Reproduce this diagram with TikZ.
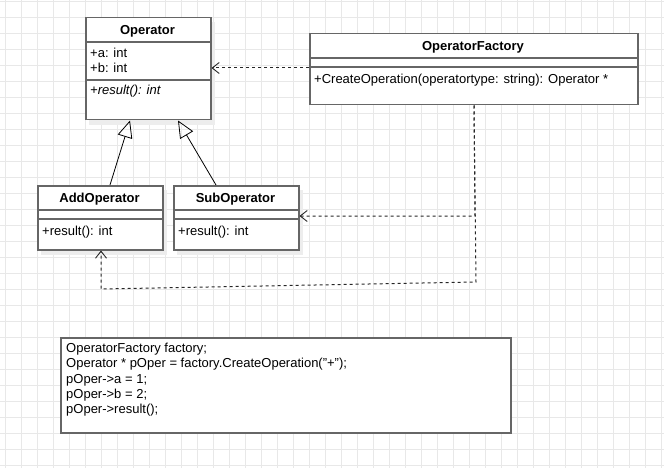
\documentclass[tikz,border=0pt]{standalone}
\usepackage{fontspec}
\setmainfont{Liberation Sans}
\usetikzlibrary{arrows.meta}
\begin{document}
\begin{tikzpicture}[x=1pt,y=-1pt,
  box/.style={draw=black!60, line width=1.5pt, fill=white, inner sep=0pt, anchor=north west},
  shade/.style={fill=black!7, draw=none},
  sepline/.style={draw=black!60, line width=1.5pt},
  ttl/.style={font=\fontsize{13}{15}\selectfont\bfseries, inner sep=0pt},
  txt/.style={font=\fontsize{13}{15.3}\selectfont, inner sep=0pt, anchor=west},
  inh/.style={draw=black, line width=0.8pt, -{Triangle[open, length=17pt, width=15pt]}},
  dep/.style={draw=black!85, line width=1pt, dash pattern=on 3pt off 3pt},
  deparrow/.style={dep, -{Straight Barb[length=7pt, width=11pt, line width=0.9pt]}},
  gridline/.style={draw=black!9, line width=0.7pt}
]
\useasboundingbox (0,0) rectangle (664,468);
\fill[white] (0,0) rectangle (664,468);
% grid
\foreach \gx in {5,21,...,661} { \draw[gridline] (\gx,0) -- (\gx,468); }
\foreach \gy in {1,17,...,465} { \draw[gridline] (0,\gy) -- (664,\gy); }

% shadows
\fill[shade] (89,22) rectangle (215,125);
\fill[shade] (41,190) rectangle (167,255);
\fill[shade] (177,190) rectangle (303,255);

% Operator
\node[box, minimum width=125pt, minimum height=102pt] (op) at (85,17) {};
\draw[sepline] (op.west |- 0,42) -- (op.east |- 0,42);
\draw[sepline] (op.west |- 0,80) -- (op.east |- 0,80);
\node[ttl] (opname) at (147.5,31) {Operator};
\node[txt] (opa) at (90,52.5) {+a: int};
\node[txt] (opb) at (90,68) {+b: int};
\node[txt] (opm) at (90,91.5) {\itshape +result(): int};

% OperatorFactory
\node[box, minimum width=328pt, minimum height=71pt] (fac) at (309,33) {};
\draw[sepline] (fac.west |- 0,58) -- (fac.east |- 0,58);
\draw[sepline] (fac.west |- 0,67) -- (fac.east |- 0,67);
\node[ttl] (facname) at (473,47.5) {OperatorFactory};
\node[txt] (facm) at (314,80.5) {+CreateOperation(operatortype: string): Operator *};

% AddOperator
\node[box, minimum width=125pt, minimum height=64pt] (add) at (37,185) {};
\draw[sepline] (add.west |- 0,210) -- (add.east |- 0,210);
\draw[sepline] (add.west |- 0,219) -- (add.east |- 0,219);
\node[ttl] (addname) at (99.5,199) {AddOperator};
\node[txt] (addm) at (42,232.5) {+result(): int};

% SubOperator
\node[box, minimum width=125pt, minimum height=64pt] (sub) at (173,185) {};
\draw[sepline] (sub.west |- 0,210) -- (sub.east |- 0,210);
\draw[sepline] (sub.west |- 0,219) -- (sub.east |- 0,219);
\node[ttl] (subname) at (235.5,199) {SubOperator};
\node[txt] (subm) at (178,232.5) {+result(): int};

% note
\node[box, minimum width=450pt, minimum height=95pt] (note) at (60,337) {};
\node[txt, anchor=north west, align=left] (code) at (66,343) {OperatorFactory factory;\\
Operator * pOper = factory.CreateOperation("+");\\
pOper->a = 1;\\
pOper->b = 2;\\
pOper->result();};

% inheritance
\draw[inh] (add.north -| 110,0) -- (op.south -| 130,0);
\draw[inh] (sub.north -| 216,0) -- (op.south -| 178,0);

% dependencies
\draw[deparrow] (fac.west |- 0,68) -- (op.east |- 0,68);
\draw[deparrow] (fac.south -| 474,0) -- (475,216) -- (sub.east |- 0,216);
\draw[deparrow] (fac.south -| 474,0) -- (476,282) -- (101,289) -- (add.south -| 101,0);
\end{tikzpicture}
\end{document}
